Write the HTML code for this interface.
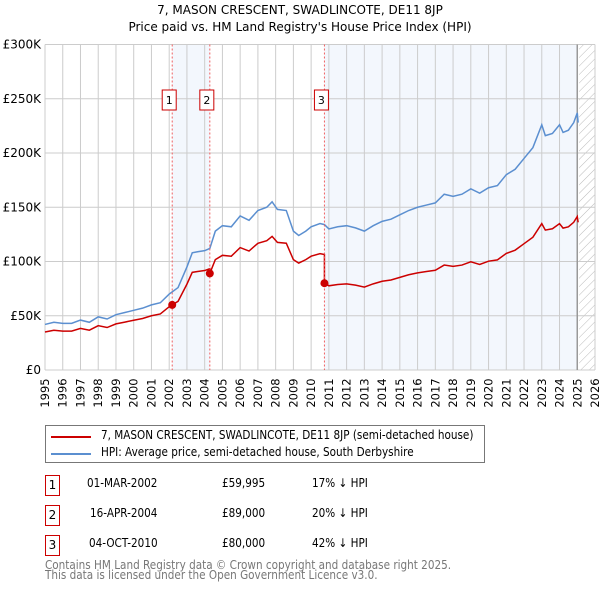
<!DOCTYPE html>
<html><head><meta charset="utf-8"><style>
body{margin:0;background:#fff;font-family:"DejaVu Sans","Liberation Sans",sans-serif;}
#wrap{position:relative;width:600px;height:590px;overflow:hidden}
svg text{font-family:"DejaVu Sans","Liberation Sans",sans-serif}
.abs{position:absolute;font-size:12px;color:#000;white-space:nowrap;transform:scaleX(0.87);transform-origin:0 0}
.box{position:absolute;border:1px solid #c00;width:13px;height:19px;font-size:12px;text-align:center;line-height:19px}
</style></head><body>
<div id="wrap">
<svg id="chart" width="600" height="420"></svg>
<div style="position:absolute;left:45px;top:425px;width:438px;height:36px;border:1px solid #777">
 <div style="position:absolute;left:5px;top:10px;width:40px;height:2px;background:#c00"></div>
 <div class="abs" style="left:55px;top:2px">7, MASON CRESCENT, SWADLINCOTE, DE11 8JP (semi-detached house)</div>
 <div style="position:absolute;left:5px;top:27px;width:40px;height:2px;background:#5b8fd0"></div>
 <div class="abs" style="left:55px;top:19px">HPI: Average price, semi-detached house, South Derbyshire</div>
</div>
<div class="box" style="left:45px;top:475px">1</div>
<div class="abs" style="left:87px;top:476px">01-MAR-2002</div>
<div class="abs" style="left:222px;top:476px">£59,995</div>
<div class="abs" style="left:312px;top:476px">17% ↓ HPI</div>
<div class="box" style="left:45px;top:505px">2</div>
<div class="abs" style="left:90px;top:506px">16-APR-2004</div>
<div class="abs" style="left:222px;top:506px">£89,000</div>
<div class="abs" style="left:312px;top:506px">20% ↓ HPI</div>
<div class="box" style="left:45px;top:535px">3</div>
<div class="abs" style="left:89px;top:536px">04-OCT-2010</div>
<div class="abs" style="left:222px;top:536px">£80,000</div>
<div class="abs" style="left:312px;top:536px">42% ↓ HPI</div>
<div class="abs" style="left:45px;top:560px;color:#777;line-height:10px">Contains HM Land Registry data © Crown copyright and database right 2025.<br>This data is licensed under the Open Government Licence v3.0.</div>
</div>
<script>
const hpiYears=[1995,1995.5,1996,1996.5,1997,1997.5,1998,1998.5,1999,1999.5,2000,2000.5,2001,2001.5,2002,2002.17,2002.5,2003,2003.3,2003.6,2004,2004.29,2004.6,2005,2005.5,2006,2006.5,2007,2007.5,2007.8,2008.1,2008.6,2009,2009.3,2009.7,2010,2010.5,2010.75,2011,2011.5,2012,2012.5,2013,2013.5,2014,2014.5,2015,2015.5,2016,2016.5,2017,2017.5,2018,2018.5,2019,2019.5,2020,2020.5,2021,2021.5,2022,2022.5,2023,2023.2,2023.6,2024,2024.2,2024.5,2024.8,2025,2025.05];
const hpiValues=[42,44,43,43,46,44,49,47,51,53,55,57,60,62,70,72,76,95,108,109,110,112,128,133,132,142,138,147,150,155,148,147,128,124,128,132,135,134,130,132,133,131,128,133,137,139,143,147,150,152,154,162,160,162,167,163,168,170,180,185,195,205,226,216,218,226,219,221,228,237,228];
const saleDates=[2002.17,2004.29,2010.75];
const salePrices=[59995,89000,80000];
const saleLabels=["1","2","3"];
const yTicks=[0,50,100,150,200,250,300];
const yTickLabels=["£0","£50K","£100K","£150K","£200K","£250K","£300K"];
const xTicks=[1995,1996,1997,1998,1999,2000,2001,2002,2003,2004,2005,2006,2007,2008,2009,2010,2011,2012,2013,2014,2015,2016,2017,2018,2019,2020,2021,2022,2023,2024,2025,2026];

const svg=document.getElementById('chart');const NS='http://www.w3.org/2000/svg';
const X0=45,X1=595,Y0=370,Y1=44.5;
const x=v=>X0+(v-1995)/(2026-1995)*(X1-X0);
const y=v=>Y0-v/300*(Y0-Y1);
function mk(t,a,p){const e=document.createElementNS(NS,t);for(const k in a)e.setAttribute(k,a[k]);(p||svg).appendChild(e);return e;}
let t=mk('text',{x:300,y:14,'text-anchor':'middle','font-size':12});t.textContent='7, MASON CRESCENT, SWADLINCOTE, DE11 8JP';


t=mk('text',{x:300,y:31,'text-anchor':'middle','font-size':12});t.textContent="Price paid vs. HM Land Registry's House Price Index (HPI)";


let r=mk('rect',{x:x(saleDates[0]),y:Y1,width:x(saleDates[1])-x(saleDates[0]),height:Y0-Y1,fill:'#eef3fc',opacity:0.7});


r=mk('rect',{x:x(saleDates[2]),y:Y1,width:x(2025)-x(saleDates[2]),height:Y0-Y1,fill:'#eef3fc',opacity:0.7});


const defs=mk('defs',{});const pat=mk('pattern',{id:'h',width:6,height:6,patternUnits:'userSpaceOnUse',patternTransform:'rotate(45)'},defs);
mk('line',{x1:0,y1:0,x2:0,y2:6,stroke:'#bbb','stroke-width':1},pat);
r=mk('rect',{x:x(2025.1),y:Y1,width:X1-x(2025.1),height:Y0-Y1,fill:'url(#h)'});


xTicks.forEach(v=>{const l=mk('line',{x1:x(v),x2:x(v),y1:Y1,y2:Y0,stroke:'#ccc'});


const tx=mk('text',{x:0,y:0,'font-size':11.5,transform:`translate(${x(v)+4},${Y0+23}) rotate(-90)`,'text-anchor':'middle'});tx.textContent=v;

});
yTicks.forEach((v,i)=>{const l=mk('line',{x1:X0,x2:X1,y1:y(v),y2:y(v),stroke:'#ccc'});


const tx=mk('text',{x:X0-4,y:y(v)+4,'font-size':12,'text-anchor':'end'});tx.textContent=yTickLabels[i];

});
let nl=mk('line',{x1:x(2025),x2:x(2025),y1:Y1,y2:Y0,stroke:'#999','stroke-width':1.5});


function hpiAt(d){for(let i=1;i<hpiYears.length;i++){if(d<=hpiYears[i]){const f=(d-hpiYears[i-1])/(hpiYears[i]-hpiYears[i-1]);return hpiValues[i-1]+f*(hpiValues[i]-hpiValues[i-1]);}}return hpiValues[hpiValues.length-1];}
let p=mk('polyline',{points:hpiYears.map((d,i)=>x(d)+','+y(hpiValues[i])).join(' '),fill:'none',stroke:'#5b8fd0','stroke-width':1.5});


const pts=[];hpiYears.forEach((d,i)=>{let k=0;for(let j=0;j<saleDates.length;j++)if(d>=saleDates[j])k=j;
const ratio=(salePrices[k]/1000)/hpiAt(saleDates[k]);pts.push(x(d)+','+y(hpiValues[i]*ratio));
const nx=saleDates.find(s=>s>d&&(i+1>=hpiYears.length||s<=hpiYears[i+1]));
if(nx!==undefined){const kk=saleDates.indexOf(nx);pts.push(x(nx)+','+y(hpiAt(nx)*ratio));pts.push(x(nx)+','+y(salePrices[kk]/1000));}});
p=mk('polyline',{points:pts.join(' '),fill:'none',stroke:'#cc0000','stroke-width':1.5});


saleDates.forEach((d,i)=>{const l=mk('line',{x1:x(d),x2:x(d),y1:Y1,y2:Y0,stroke:'#f06060','stroke-dasharray':'2,2'});


const c=mk('circle',{cx:x(d),cy:y(salePrices[i]/1000),r:4,fill:'#cc0000'});


const b=mk('rect',{x:x(d)-10,y:90,width:14,height:20,fill:'#fff',stroke:'#c00'});


const tx=mk('text',{x:x(d)-3,y:104,'font-size':11,'text-anchor':'middle'});tx.textContent=saleLabels[i];

});
</script>
</body></html>
